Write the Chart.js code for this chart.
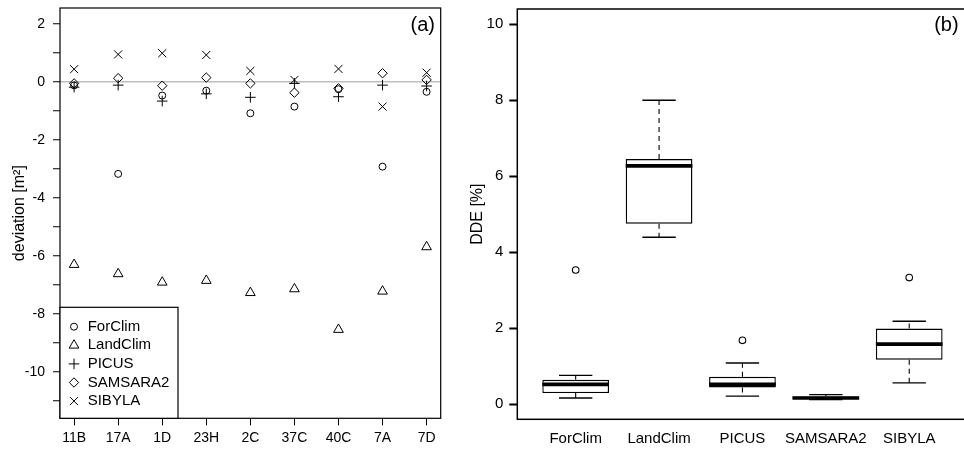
<!DOCTYPE html>
<html>
<head>
<meta charset="utf-8">
<script src="https://cdn.jsdelivr.net/npm/chart.js@4.4.1/dist/chart.umd.min.js"></script>
<style>
  html, body { margin: 0; padding: 0; background: #fff; overflow: hidden; }
  #wrap { position: relative; width: 964px; height: 451px; overflow: hidden; background: #fff; }
  canvas { position: absolute; top: 0; }
  #devChart { left: 0; }
  #ddeChart { left: 460px; }
</style>
</head>
<body>
<div id="wrap">
  <canvas id="devChart" width="480" height="451"></canvas>
  <canvas id="ddeChart" width="512" height="451"></canvas>
</div>
<script>
// ---- (a) deviation per site and model [m²] ----
const sites = ['11B', '17A', '1D', '23H', '2C', '37C', '40C', '7A', '7D'];
const forclim  = [-0.12, -3.17, -0.47, -0.30, -1.08, -0.85, -0.25, -2.92, -0.34];
const landclim = [-6.30, -6.62, -6.91, -6.85, -7.27, -7.14, -8.54, -7.22, -5.69];
const picus    = [-0.18, -0.11, -0.66, -0.41, -0.53, -0.05, -0.51, -0.11, -0.14];
const samsara2 = [-0.05, 0.13, -0.13, 0.15, -0.05, -0.37, -0.22, 0.30, 0.07];
const sibyla   = [0.44, 0.95, 0.99, 0.93, 0.38, 0.07, 0.45, -0.85, 0.32];
const deviationTicks = [-11, -10, -9, -8, -7, -6, -5, -4, -3, -2, -1, 0, 1, 2];

// ---- (b) DDE [%] distribution per model ----
const models      = ['ForClim', 'LandClim', 'PICUS', 'SAMSARA2', 'SIBYLA'];
const ddeLow      = [0.16, 4.39, 0.21, 0.12, 0.56];
const ddeQ1       = [0.29, 4.75, 0.44, 0.14, 1.17];
const ddeMedian   = [0.52, 6.27, 0.52, 0.16, 1.58];
const ddeQ3       = [0.64, 6.45, 0.72, 0.20, 1.99];
const ddeHigh     = [0.755, 8.00, 1.08, 0.25, 2.18];
const outlierModel = [0, 2, 4];
const outlierValue = [3.53, 1.68, 3.33];
const ddeTicks = [0, 2, 4, 6, 8, 10];

const FONT = '"Liberation Sans", Arial, Helvetica, sans-serif';

// Frame around the plotting region plus the panel tag in the top right corner
const framePlugin = {
  id: 'frame',
  afterDraw(chart, args, opts) {
    const { ctx, chartArea: a } = chart;
    ctx.save();
    ctx.strokeStyle = '#000';
    ctx.lineWidth = opts.lineWidth;
    ctx.strokeRect(a.left, a.top, a.right - a.left, a.bottom - a.top);
    ctx.fillStyle = '#000';
    ctx.font = '20px ' + FONT;
    ctx.textAlign = 'right';
    ctx.textBaseline = 'middle';
    ctx.fillText(opts.tag, a.right - opts.tagInset, a.top + opts.tagDrop);
    ctx.restore();
  }
};

// Boxed symbol legend in the lower left corner of the plotting region
const symbolLegend = {
  id: 'symbolLegend',
  afterDraw(chart, args, opts) {
    if (!opts.show) return;
    const { ctx, chartArea: a } = chart;
    const boxW = 118, boxH = 111, rowH = 18.6;
    const x0 = a.left, y0 = a.bottom - boxH;
    ctx.save();
    ctx.fillStyle = '#fff';
    ctx.fillRect(x0, y0, boxW, boxH);
    ctx.strokeStyle = '#000';
    ctx.lineWidth = 1.2;
    ctx.strokeRect(x0, y0, boxW, boxH);
    ctx.font = '15px ' + FONT;
    ctx.textBaseline = 'middle';
    ctx.textAlign = 'left';
    chart.data.datasets.forEach((ds, i) => {
      const y = y0 + 19.4 + i * rowH;
      ctx.fillStyle = 'rgba(0,0,0,0)';
      ctx.strokeStyle = '#000';
      ctx.lineWidth = 1;
      Chart.helpers.drawPoint(ctx, { pointStyle: ds.pointStyle, radius: ds.pointRadius, rotation: 0, borderWidth: 1 }, x0 + 14, y);
      ctx.fillStyle = '#000';
      ctx.fillText(ds.label, x0 + 27.7, y);
    });
    ctx.restore();
  }
};

function markerSeries(label, values, pointStyle, radius) {
  return {
    type: 'scatter',
    label,
    data: values.map((v, i) => ({ x: i, y: v })),
    pointStyle,
    pointRadius: radius,
    pointHoverRadius: radius,
    borderColor: '#000',
    backgroundColor: 'rgba(0,0,0,0)',
    borderWidth: 1
  };
}

new Chart(document.getElementById('devChart'), {
  type: 'scatter',
  data: {
    datasets: [
      markerSeries('ForClim', forclim, 'circle', 3.5),
      markerSeries('LandClim', landclim, 'triangle', 5.6),
      markerSeries('PICUS', picus, 'cross', 5.3),
      markerSeries('SAMSARA2', samsara2, 'rectRot', 4.7),
      markerSeries('SIBYLA', sibyla, 'crossRot', 5.7)
    ]
  },
  options: {
    responsive: false,
    animation: false,
    events: [],
    layout: { padding: { top: 8, right: 39.3, left: 0, bottom: 0 } },
    scales: {
      x: {
        type: 'linear',
        min: -0.32,
        max: 8.32,
        afterBuildTicks: s => { s.ticks = sites.map((_, i) => ({ value: i })); },
        afterFit: s => { s.height = 32.7; s.paddingLeft = 0; s.paddingRight = 0; },
        border: { display: false },
        grid: { drawOnChartArea: false, drawTicks: true, tickLength: 7, tickColor: '#000', tickWidth: 1 },
        ticks: {
          autoSkip: false, maxRotation: 0, padding: 4.5, color: '#000',
          font: { family: FONT, size: 14 },
          callback: v => sites[v]
        }
      },
      y: {
        type: 'linear',
        min: -11.6,
        max: 2.55,
        afterBuildTicks: s => { s.ticks = deviationTicks.map(v => ({ value: v })); },
        afterFit: s => { s.width = 60; s.paddingTop = 0; s.paddingBottom = 0; },
        border: { display: false },
        grid: {
          drawOnChartArea: true,
          drawTicks: true,
          tickLength: 7,
          tickColor: '#000',
          tickWidth: 1,
          color: c => (c.tick && c.tick.value === 0) ? '#bdbdbd' : 'rgba(0,0,0,0)',
          lineWidth: 1.5
        },
        ticks: {
          padding: 8, color: '#000',
          font: { family: FONT, size: 14 },
          callback: v => (v % 2 === 0 ? String(v) : '')
        },
        title: {
          display: true, text: 'deviation [m²]', color: '#000',
          font: { family: FONT, size: 16 },
          padding: { top: 9.6, bottom: 0 }
        }
      }
    },
    plugins: {
      legend: { display: false },
      tooltip: { enabled: false },
      frame: { tag: '(a)', tagInset: 5.7, tagDrop: 17, lineWidth: 1.2 },
      symbolLegend: { show: true }
    }
  },
  plugins: [framePlugin, symbolLegend]
});

// pixel length of a span of x units on the category axis
function unitPx(chart, span) {
  const s = chart.scales.x;
  return Math.abs(s.getPixelForValue(1 + span) - s.getPixelForValue(1));
}

const whiskerPoints = [];
models.forEach((m, i) => {
  whiskerPoints.push({ x: i + 1, y: ddeQ3[i] }, { x: i + 1, y: ddeHigh[i] }, { x: i + 1, y: null });
  whiskerPoints.push({ x: i + 1, y: ddeQ1[i] }, { x: i + 1, y: ddeLow[i] }, { x: i + 1, y: null });
});
const capPoints = [];
models.forEach((m, i) => {
  capPoints.push({ x: i + 1, y: ddeLow[i] }, { x: i + 1, y: ddeHigh[i] });
});

new Chart(document.getElementById('ddeChart'), {
  type: 'bar',
  data: {
    datasets: [
      {
        type: 'line',
        label: 'whiskers',
        data: whiskerPoints,
        borderColor: '#000',
        borderWidth: 1.1,
        borderDash: [5, 4],
        pointRadius: 0,
        spanGaps: false,
        fill: false,
        order: 4
      },
      {
        type: 'bar',
        label: 'box',
        data: models.map((m, i) => ({ x: i + 1, y: [ddeQ1[i], ddeQ3[i]] })),
        backgroundColor: '#fff',
        borderColor: '#000',
        borderWidth: 1.4,
        borderSkipped: false,
        categoryPercentage: 0.8,
        barPercentage: 1.0,
        order: 3
      },
      {
        type: 'scatter',
        label: 'median',
        data: models.map((m, i) => ({ x: i + 1, y: ddeMedian[i] })),
        pointStyle: 'line',
        pointRadius: c => unitPx(c.chart, 0.4),
        pointHoverRadius: c => unitPx(c.chart, 0.4),
        borderColor: '#000',
        borderWidth: 3.6,
        order: 2
      },
      {
        type: 'scatter',
        label: 'caps',
        data: capPoints,
        pointStyle: 'line',
        pointRadius: c => unitPx(c.chart, 0.2),
        pointHoverRadius: c => unitPx(c.chart, 0.2),
        borderColor: '#000',
        borderWidth: 1.4,
        order: 1
      },
      {
        type: 'scatter',
        label: 'outliers',
        data: outlierModel.map((m, k) => ({ x: m + 1, y: outlierValue[k] })),
        pointStyle: 'circle',
        pointRadius: 3.3,
        pointHoverRadius: 3.3,
        borderColor: '#000',
        backgroundColor: 'rgba(0,0,0,0)',
        borderWidth: 1.1,
        order: 1
      }
    ]
  },
  options: {
    responsive: false,
    animation: false,
    events: [],
    layout: { padding: { top: 9, right: 0, left: 0, bottom: 0 } },
    scales: {
      x: {
        type: 'linear',
        min: 0.3,
        max: 5.7,
        offset: false,
        afterBuildTicks: s => { s.ticks = models.map((_, i) => ({ value: i + 1 })); },
        afterFit: s => { s.height = 31.7; s.paddingLeft = 0; s.paddingRight = 0; },
        border: { display: false },
        grid: { display: true, offset: false, drawOnChartArea: false, drawTicks: false },
        ticks: {
          autoSkip: false, maxRotation: 0, padding: 11, color: '#000',
          font: { family: FONT, size: 15 },
          callback: v => models[v - 1]
        }
      },
      y: {
        type: 'linear',
        min: -0.4,
        max: 10.4,
        afterBuildTicks: s => { s.ticks = ddeTicks.map(v => ({ value: v })); },
        afterFit: s => { s.width = 57.3; s.paddingTop = 0; s.paddingBottom = 0; },
        border: { display: false },
        grid: { drawOnChartArea: false, drawTicks: true, tickLength: 8, tickColor: '#000', tickWidth: 2 },
        ticks: {
          padding: 6, color: '#000',
          font: { family: FONT, size: 15 },
          callback: v => String(v)
        },
        title: {
          display: true, text: 'DDE [%]', color: '#000',
          font: { family: FONT, size: 16 },
          padding: { top: 8, bottom: 0 }
        }
      }
    },
    plugins: {
      legend: { display: false },
      tooltip: { enabled: false },
      frame: { tag: '(b)', tagInset: 9, tagDrop: 16, lineWidth: 1.5 },
      symbolLegend: { show: false }
    }
  },
  plugins: [framePlugin, symbolLegend]
});
</script>
</body>
</html>
